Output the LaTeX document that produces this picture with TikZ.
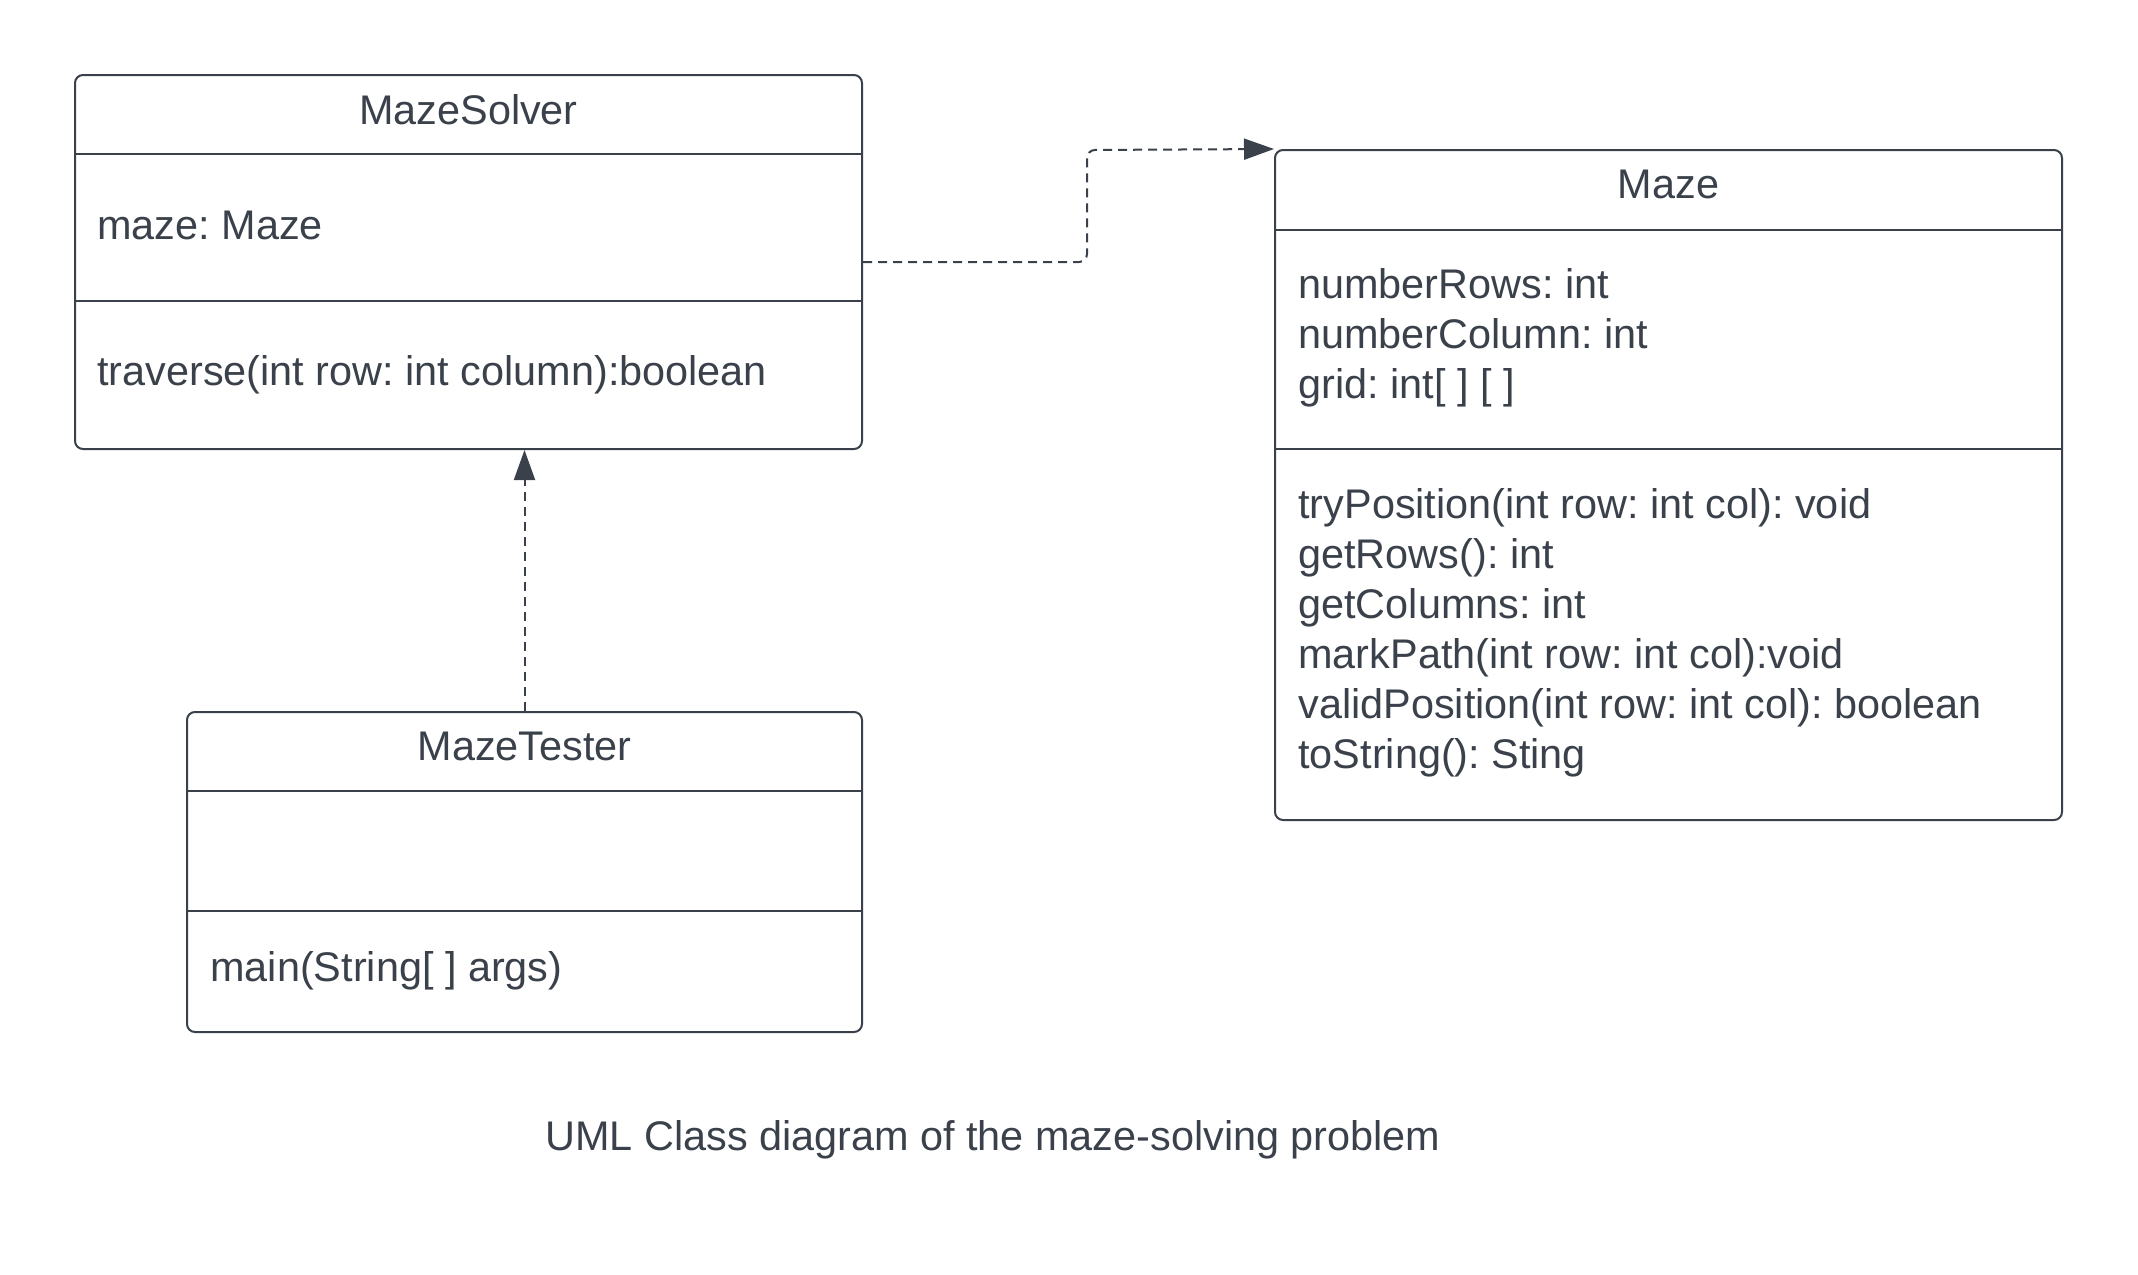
\documentclass[tikz,border=0pt]{standalone}
\usepackage{fontspec}
\setmainfont{Liberation Sans}
\usetikzlibrary{arrows.meta}
\definecolor{ink}{HTML}{3A414A}
\begin{document}
\frenchspacing
\begin{tikzpicture}[x=0.5pt,y=-0.5pt,
  classbox/.style={draw=ink, line width=1pt, rounded corners=4pt, inner sep=0pt},
  member/.style={text=ink, font=\fontsize{20.7}{25}\selectfont, inner sep=0pt, anchor=base west},
  title/.style={text=ink, font=\fontsize{20.7}{25}\selectfont, inner sep=0pt, anchor=base},
  divider/.style={draw=ink, line width=1pt},
  dep/.style={draw=ink, line width=1pt, dash pattern=on 4.5pt off 3pt, rounded corners=4pt,
              -{Triangle[length=15pt,width=10.5pt]}}]
\fill[white] (0,0) rectangle (2138,1275);

% MazeSolver
\node[classbox, minimum width=393.5pt, minimum height=187pt] (solver) at (468.5,262) {};
\draw[divider] (75,154) -- (862,154);
\draw[divider] (75,301) -- (862,301);
\node[title] (solvert) at (468.5,124) {MazeSolver};
\node[member] (solvera) at (97,239) {maze: Maze};
\node[member] (solverm) at (97,385) {traverse(int row: int column):boolean};

% Maze
\node[classbox, minimum width=393.5pt, minimum height=335pt] (maze) at (1668.5,485) {};
\draw[divider] (1275,230) -- (2062,230);
\draw[divider] (1275,449) -- (2062,449);
\node[title] (mazet) at (1668.5,198) {Maze};
\node[member] (mazea1) at (1298,298) {numberRows: int};
\node[member] (mazea2) at (1298,348) {numberColumn: int};
\node[member] (mazea3) at (1298,398) {grid: int[ ] [ ]};
\node[member] (mazem1) at (1298,518) {tryPosition(int row: int col): void};
\node[member] (mazem2) at (1298,568) {getRows(): int};
\node[member] (mazem3) at (1298,618) {getColumns: int};
\node[member] (mazem4) at (1298,668) {markPath(int row: int col):void};
\node[member] (mazem5) at (1298,718) {validPosition(int row: int col): boolean};
\node[member] (mazem6) at (1298,768) {toString(): Sting};

% MazeTester
\node[classbox, minimum width=337.5pt, minimum height=160pt] (tester) at (524.5,872) {};
\draw[divider] (187,791) -- (862,791);
\draw[divider] (187,911) -- (862,911);
\node[title] (testert) at (524.5,760) {MazeTester};
\node[member] (testerm) at (210,981) {main(String[ ] args)};

% Connectors
\coordinate (bend) at (1087,150);
\draw[dep] (solver.east) -| (bend) -- (maze.north west);
\draw[dep] (tester.north) -- (tester.north |- solver.south);

% Caption
\node[title] (caption) at (993,1150) {UML Class diagram of the maze-solving problem};
\end{tikzpicture}
\end{document}
